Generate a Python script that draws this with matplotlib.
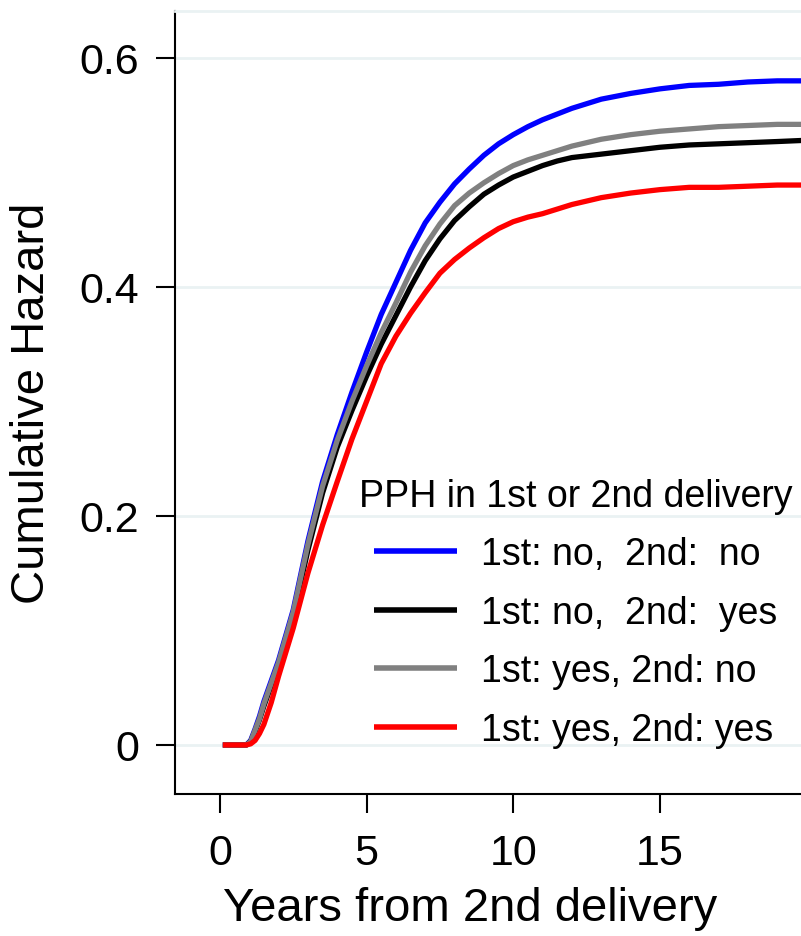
import matplotlib
matplotlib.use("Agg")
import matplotlib.pyplot as plt

plt.rcParams['font.family'] = ['Liberation Sans', 'DejaVu Sans']

# Data
years = [0.1, 0.9, 1.05, 1.2, 1.35, 1.5, 1.75, 2.0, 2.5, 3.0, 3.5, 4.0, 4.5, 5.0,
         5.5, 6.0, 6.5, 7.0, 7.5, 8.0, 8.5, 9.0, 9.5, 10, 10.5, 11, 11.5, 12, 13,
         14, 15, 16, 17, 18, 19, 19.9]

no_no = [0, 0, 0.004, 0.014, 0.025, 0.038, 0.056, 0.074, 0.118, 0.178, 0.230,
         0.271, 0.308, 0.343, 0.376, 0.404, 0.432, 0.456, 0.474, 0.490, 0.503,
         0.515, 0.525, 0.533, 0.540, 0.546, 0.551, 0.556, 0.564, 0.569, 0.573,
         0.576, 0.577, 0.579, 0.580, 0.580]
no_yes = [0, 0, 0.003, 0.012, 0.022, 0.034, 0.052, 0.070, 0.113, 0.170, 0.220,
          0.260, 0.292, 0.322, 0.350, 0.375, 0.400, 0.423, 0.442, 0.458, 0.470,
          0.481, 0.489, 0.496, 0.501, 0.506, 0.510, 0.513, 0.516, 0.519, 0.522,
          0.524, 0.525, 0.526, 0.527, 0.528]
yes_no = [0, 0, 0.003, 0.013, 0.023, 0.036, 0.054, 0.072, 0.116, 0.175, 0.226,
          0.266, 0.300, 0.331, 0.360, 0.386, 0.413, 0.436, 0.455, 0.471, 0.482,
          0.491, 0.499, 0.506, 0.511, 0.515, 0.519, 0.523, 0.529, 0.533, 0.536,
          0.538, 0.540, 0.541, 0.542, 0.542]
yes_yes = [0, 0, 0.001, 0.004, 0.010, 0.018, 0.037, 0.060, 0.102, 0.150, 0.192,
           0.230, 0.267, 0.300, 0.333, 0.357, 0.377, 0.395, 0.412, 0.424, 0.434,
           0.443, 0.451, 0.457, 0.461, 0.464, 0.468, 0.472, 0.478, 0.482, 0.485,
           0.487, 0.487, 0.488, 0.489, 0.489]

series_labels = ["1st: no,  2nd:  no", "1st: no,  2nd:  yes",
                 "1st: yes, 2nd: no", "1st: yes, 2nd: yes"]
series_colors = ["#0000FF", "#000000", "#808080", "#FF0000"]

xticks = [0, 5, 10, 15]
yticks = [0, 0.2, 0.4, 0.6]
ytick_labels = ["0", "0.2", "0.4", "0.6"]

W, H = 801, 937
fig = plt.figure(figsize=(W / 100, H / 100), dpi=100)
ax = fig.add_axes([175 / W, (H - 795) / H, (W - 175) / W, (795 - 12) / H])

grid_col = "#EAF2F3"
for yv in yticks:
    ax.axhline(yv, color=grid_col, lw=2, zorder=0)

handles = []
for vals, lab, col in zip([no_no, no_yes, yes_no, yes_yes], series_labels, series_colors):
    ln, = ax.plot(years, vals, color=col, lw=3.8, label=lab, solid_capstyle='butt',
                  solid_joinstyle='round', zorder=3)
    handles.append(ln)

ax.set_xlim(-1.53, 19.81)
ax.set_ylim(-0.0428, 0.641)

ax.set_xticks(xticks)
ax.set_xticklabels([str(v) for v in xticks])
ax.set_yticks(yticks)
ax.set_yticklabels(ytick_labels)

ax.tick_params(axis='x', length=14, width=1.5, pad=14, labelsize=31)
ax.tick_params(axis='y', length=14, width=1.5, pad=12, labelsize=31)

ax.spines['right'].set_visible(False)
ax.spines['top'].set_color(grid_col)
ax.spines['top'].set_linewidth(2)
ax.spines['left'].set_linewidth(1.5)
ax.spines['bottom'].set_linewidth(1.5)

ax.set_xlabel("Years from 2nd delivery", fontsize=34)
ax.xaxis.set_label_coords((470 - 175) / (W - 175), -0.118)
ax.xaxis.label.set_verticalalignment('top')
ax.set_ylabel("Cumulative Hazard", fontsize=34, labelpad=18)

leg = ax.legend(handles=handles, labels=series_labels, title="PPH in 1st or 2nd delivery",
                frameon=False, fontsize=27, title_fontsize=27,
                handlelength=2.2, handletextpad=0.65, labelspacing=0.6,
                loc='center', bbox_to_anchor=(576 / W, (H - 614) / H),
                bbox_transform=fig.transFigure, borderpad=0.2)
for l in leg.get_lines():
    l.set_linewidth(4)

fig.savefig("out.png", dpi=100)
